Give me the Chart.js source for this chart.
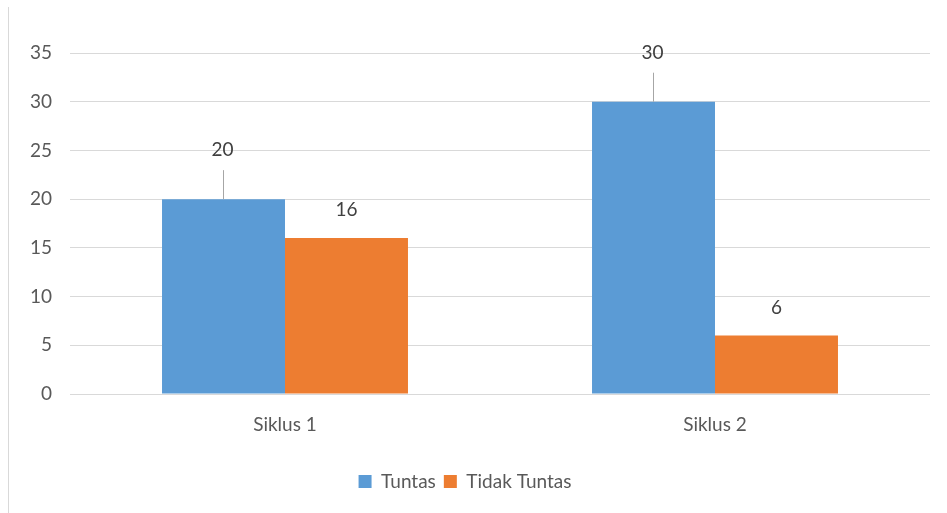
<!DOCTYPE html>
<html>
<head>
<meta charset="utf-8">
<script src="https://cdn.jsdelivr.net/npm/chart.js@4/dist/chart.umd.min.js"></script>
<style>
  html, body { margin: 0; padding: 0; background: #fff; }
  #wrap { width: 947px; height: 513px; position: relative; }
</style>
</head>
<body>
<div id="wrap"><canvas id="chart" width="947" height="513"></canvas></div>
<script>
// chart values
const categories = ['Siklus 1', 'Siklus 2'];
const tuntas = [20, 30];
const tidakTuntas = [16, 6];
const yTicks = [0, 5, 10, 15, 20, 25, 30, 35];

const FONT = 'Lato, "Open Sans", sans-serif';
const TEXT = '#595959';

// draws the value labels; blue ones sit higher with a leader line
const valueLabels = {
    id: 'valueLabels',
    afterDatasetsDraw(chart) {
        const ctx = chart.ctx;
        ctx.save();
        ctx.font = '19px ' + FONT;
        ctx.fillStyle = '#404040';
        ctx.textAlign = 'center';
        ctx.textBaseline = 'middle';
        chart.data.datasets.forEach((ds, i) => {
            const meta = chart.getDatasetMeta(i);
            meta.data.forEach((bar, j) => {
                const leader = ds.leader;
                const x = leader ? bar.x - 1 : bar.x;
                const y = leader ? bar.y - 49 : bar.y - 28;
                if (leader) {
                    ctx.strokeStyle = '#a6a6a6';
                    ctx.lineWidth = 1;
                    ctx.beginPath();
                    ctx.moveTo(Math.round(x) + 0.5, bar.y);
                    ctx.lineTo(Math.round(x) + 0.5, bar.y - 29);
                    ctx.stroke();
                }
                ctx.fillText(String(ds.data[j]), x, y);
            });
        });
        ctx.restore();
    }
};

// thin frame line on the left edge
const frame = {
    id: 'frame',
    beforeDraw(chart) {
        const ctx = chart.ctx;
        ctx.save();
        ctx.strokeStyle = '#d9d9d9';
        ctx.lineWidth = 1;
        ctx.beginPath();
        ctx.moveTo(8.5, 7);
        ctx.lineTo(8.5, 513);
        ctx.stroke();
        ctx.restore();
    }
};

new Chart(document.getElementById('chart'), {
    type: 'bar',
    data: {
        labels: categories,
        datasets: [
            { label: 'Tuntas', data: tuntas, backgroundColor: '#5b9bd5', leader: true },
            { label: 'Tidak Tuntas', data: tidakTuntas, backgroundColor: '#ed7d31', leader: false }
        ]
    },
    options: {
        responsive: false,
        animation: false,
        devicePixelRatio: 1,
        layout: { padding: { top: 53, right: 17, left: 0, bottom: 12 } },
        datasets: { bar: { categoryPercentage: 0.572, barPercentage: 1.0 } },
        scales: {
            x: {
                grid: { display: false },
                border: { display: false },
                ticks: { color: TEXT, font: { family: FONT, size: 19 }, padding: 11 },
                afterFit(scale) { scale.height = 70; }
            },
            y: {
                min: 0,
                max: 35,
                afterBuildTicks(scale) { scale.ticks = yTicks.map(v => ({ value: v })); },
                grid: { color: '#d9d9d9', lineWidth: 1, drawTicks: false },
                border: { display: false },
                ticks: { color: TEXT, font: { family: FONT, size: 19 }, padding: 18 },
                afterFit(scale) { scale.width = 70; }
            }
        },
        plugins: {
            legend: {
                position: 'bottom',
                labels: {
                    color: TEXT,
                    font: { family: FONT, size: 19 },
                    boxWidth: 13,
                    boxHeight: 13,
                    padding: 8
                }
            },
            tooltip: { enabled: false }
        }
    },
    plugins: [frame, valueLabels]
});
</script>
</body>
</html>
